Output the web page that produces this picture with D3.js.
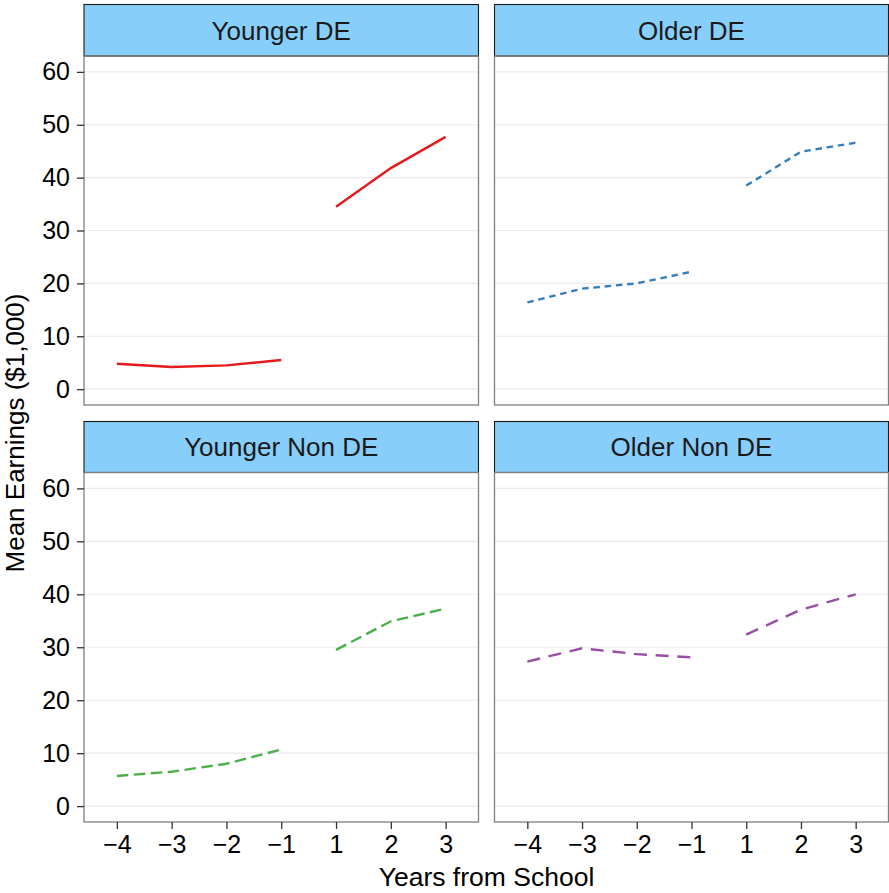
<!DOCTYPE html>
<html><head><meta charset="utf-8">
<script src="https://cdn.jsdelivr.net/npm/d3@7"></script>
<style>body{margin:0;background:#fff}svg{display:block}text{font-family:"Liberation Sans",Arial,sans-serif}</style>
</head><body>
<script>
const years = ["-4","-3","-2","-1","1","2","3"];
const panels = ["Younger DE","Older DE","Younger Non DE","Older Non DE"];
const youngerDE   = [4.8, 4.2, 4.5, 5.5, 34.5, 41.8, 47.7];
const olderDE     = [16.4, 19.0, 20.0, 22.2, 38.5, 44.9, 46.6];
const youngerNonDE= [5.7, 6.5, 8.0, 10.7, 29.5, 34.9, 37.3];
const olderNonDE  = [27.3, 29.8, 28.7, 28.1, 32.4, 37.1, 40.0];
const yTicks = [0,10,20,30,40,50,60];
const yDomain = [-3, 63];
const seriesValues = [youngerDE, olderDE, youngerNonDE, olderNonDE];
const colors = ["#E41A1C","#377EB8","#4DAF4A","#984EA3"];
const dashes = [null, "6.5,4.8", "11.5,5.5", "13,8.7"];

const W = 889, H = 893;
const svg = d3.select("body").append("svg").attr("width", W).attr("height", H);

const cols = [[84, 478.5],[494.5, 888.5]];
const rows = [{s0:4.5, p0:56, p1:405},{s0:421.5, p0:472.5, p1:822}];

panels.forEach((name, i) => {
  const c = cols[i % 2], r = rows[Math.floor(i / 2)];
  const x = d3.scalePoint().domain(years).range(c).padding(0.6);
  const y = d3.scaleLinear().domain(yDomain).range([r.p1, r.p0]);
  const g = svg.append("g");
  // strip
  g.append("rect").attr("x", c[0]).attr("y", r.s0).attr("width", c[1]-c[0]).attr("height", r.p0 - r.s0)
    .attr("fill", "#87CEFA").attr("stroke", "#1a1a1a").attr("stroke-width", 1.1);
  g.append("text").attr("x", (c[0]+c[1])/2).attr("y", (r.s0 + r.p0)/2).attr("dy", "0.36em")
    .attr("text-anchor", "middle").attr("font-size", 26).attr("fill", "#1a1a1a").text(name);
  // grid
  g.selectAll("line.grid").data(yTicks).join("line")
    .attr("x1", c[0]).attr("x2", c[1]).attr("y1", d => y(d)).attr("y2", d => y(d))
    .attr("stroke", "#ebebeb").attr("stroke-width", 1.1);
  // lines (break between pre and post)
  const vals = seriesValues[i];
  const pts = years.map((yr, k) => ({yr, v: vals[k], post: +yr > 0}));
  const line = d3.line().x(d => x(d.yr)).y(d => y(d.v));
  [false, true].forEach(post => {
    g.append("path").datum(pts.filter(p => p.post === post))
      .attr("d", line).attr("fill", "none").attr("stroke", colors[i]).attr("stroke-width", 2.4)
      .attr("stroke-dasharray", dashes[i]);
  });
  // border
  g.append("rect").attr("x", c[0]).attr("y", r.p0).attr("width", c[1]-c[0]).attr("height", r.p1 - r.p0)
    .attr("fill", "none").attr("stroke", "#7f7f7f").attr("stroke-width", 1.3);
  // axes
  if (i % 2 === 0) {
    const ax = g.append("g").attr("transform", `translate(${c[0]},0)`)
      .call(d3.axisLeft(y).tickValues(yTicks).tickSize(7).tickPadding(7));
    ax.select(".domain").remove();
    ax.selectAll(".tick line").attr("stroke", "#333").attr("stroke-width", 1.3);
    ax.selectAll(".tick text").attr("font-size", 25).attr("fill", "#000").attr("font-family", '"Liberation Sans",Arial,sans-serif');
  }
  if (i >= 2) {
    const ax = g.append("g").attr("transform", `translate(0,${r.p1})`)
      .call(d3.axisBottom(x).tickSize(7).tickPadding(6).tickFormat(d => d.replace("-", "\u2212")));
    ax.select(".domain").remove();
    ax.selectAll(".tick line").attr("stroke", "#333").attr("stroke-width", 1.3);
    ax.selectAll(".tick text").attr("font-size", 25).attr("fill", "#000").attr("font-family", '"Liberation Sans",Arial,sans-serif');
  }
});

svg.append("text").attr("x", 486.5).attr("y", 886).attr("text-anchor", "middle")
  .attr("font-size", 26.5).attr("fill", "#000").text("Years from School");
svg.append("text").attr("transform", "translate(24,433) rotate(-90)").attr("text-anchor", "middle")
  .attr("font-size", 26).attr("fill", "#000").text("Mean Earnings ($1,000)");
</script>
</body></html>
